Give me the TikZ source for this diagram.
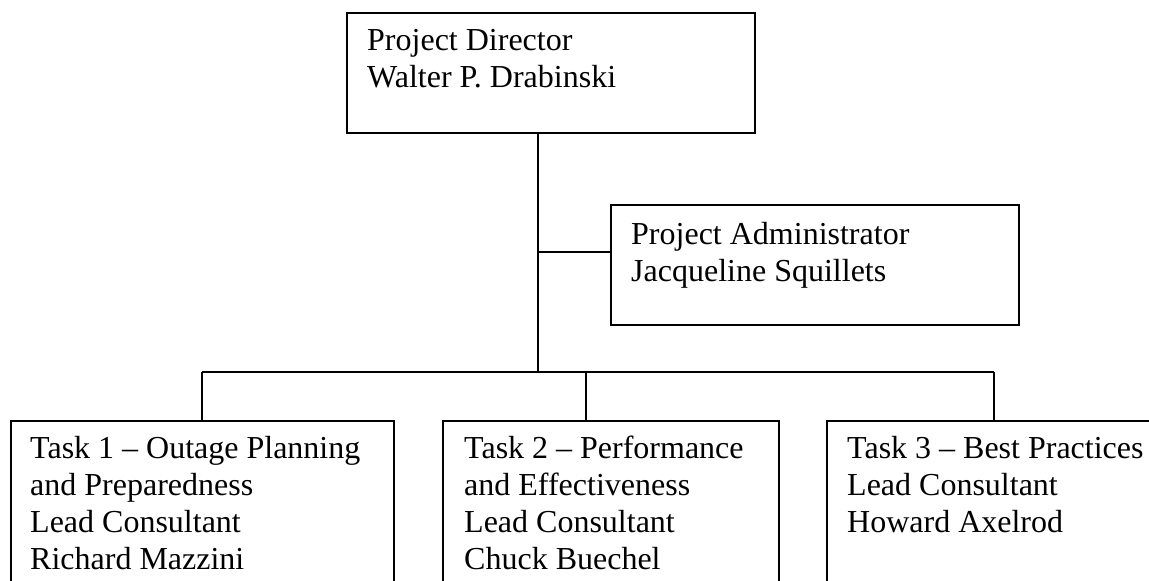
\documentclass[tikz,border=0pt]{standalone}
\usepackage{fontspec}
\setmainfont{Liberation Serif}
\begin{document}
\begin{tikzpicture}[x=1pt,y=-1pt,
  box/.style={draw=black, line width=1.5pt, rectangle, inner sep=0pt, anchor=north west},
  txt/.style={anchor=base west, inner sep=0pt, font=\fontsize{32}{37.3}\selectfont},
  conn/.style={draw=black, line width=1.5pt}]
\useasboundingbox (0,0) rectangle (1149,581);
\clip (0,0) rectangle (1149,581);
% boxes
\node[box, minimum width=408pt, minimum height=120pt] (pd) at (346,12) {};
\node[box, minimum width=408pt, minimum height=120pt] (pa) at (610,204) {};
\node[box, minimum width=383pt, minimum height=200pt] (t1) at (10,420) {};
\node[box, minimum width=336pt, minimum height=200pt] (t2) at (442,420) {};
\node[box, minimum width=336pt, minimum height=200pt] (t3) at (826,420) {};
% texts
\node[txt] (pdt) at (367,50) {\parbox[t]{380pt}{Project Director\\Walter P. Drabinski}};
\node[txt] (pat) at (631,244) {\parbox[t]{380pt}{Project Administrator\\Jacqueline Squillets}};
\node[txt] (t1t) at (30,458) {\parbox[t]{380pt}{Task 1 -- Outage Planning\\and Preparedness\\Lead Consultant\\Richard Mazzini}};
\node[txt] (t2t) at (464,458) {\parbox[t]{380pt}{Task 2 -- Performance\\and Effectiveness\\Lead Consultant\\Chuck Buechel}};
\node[txt] (t3t) at (847,458) {\parbox[t]{380pt}{Task 3 -- Best Practices\\Lead Consultant\\Howard Axelrod}};
% connectors
\coordinate (bus) at (538,372);
\coordinate (bl) at (202,372);
\coordinate (br) at (994,372);
\coordinate (b2) at (586,372);
\coordinate (am) at (538,252);
\draw[conn] (pd.south -| bus) -- (bus);
\draw[conn] (am) -- (am -| pa.west);
\draw[conn] (bl) -- (br);
\draw[conn] (bl) -- (bl |- t1.north);
\draw[conn] (b2) -- (b2 |- t2.north);
\draw[conn] (br) -- (br |- t3.north);
\end{tikzpicture}
\end{document}
